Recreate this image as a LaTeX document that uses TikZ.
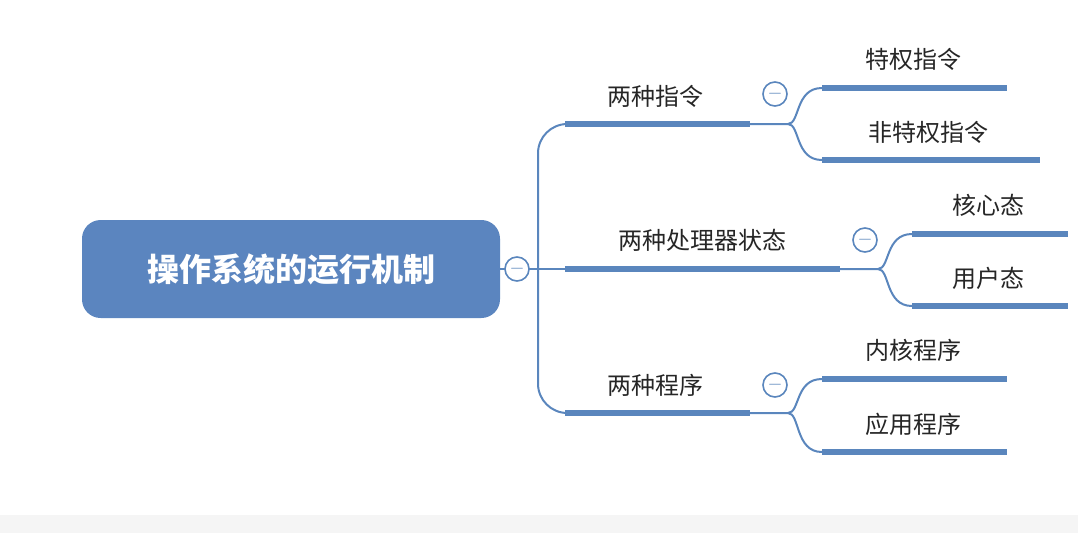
\documentclass[tikz,border=0pt]{standalone}
\usepackage{fontspec}
\newfontfamily\cjk{Noto Sans CJK SC}
\begin{document}
\begin{tikzpicture}[x=0.75pt,y=-0.75pt,
  bl/.style={draw=lc,line width=1.5pt},
  ul/.style={draw=lc,line width=4pt},
  lbl/.style={font=\cjk\fontsize{18}{20}\selectfont,text=black!85,inner sep=0pt},
  col/.style={circle,draw=lc,line width=1.2pt,fill=white,minimum size=18pt,inner sep=0pt,font=\cjk\fontsize{14}{14}\selectfont,text=lc}]
\definecolor{lc}{HTML}{5A86BD}
\definecolor{rf}{HTML}{5B85BF}
\useasboundingbox (0,0) rectangle (1078,533);
\fill[black!4] (0,515) rectangle (1078,533);
% root
\node[fill=rf,rounded corners=14pt,minimum width=313.5pt,minimum height=73.5pt,inner sep=0pt,text=white,font=\cjk\bfseries\fontsize{24}{26}\selectfont] (root) at (291,269) {操作系统的运行机制};
\coordinate (j) at (538,269);
\draw[bl] (root.east) -- (j);
% branches
\coordinate (b1s) at (565,124); \coordinate (b1e) at (750,124);
\coordinate (b2s) at (565,269); \coordinate (b2e) at (840,269);
\coordinate (b3s) at (565,413); \coordinate (b3e) at (750,413);
\draw[bl,rounded corners=22pt] (j) -- (538,124) -- (b1s);
\draw[bl,rounded corners=22pt] (j) -- (538,413) -- (b3s);
\draw[bl] (j) -- (b2s);
\draw[ul] (b1s) -- (b1e); \draw[ul] (b2s) -- (b2e); \draw[ul] (b3s) -- (b3e);
\node[lbl] (t1) at (655,96) {两种指令};
\node[lbl] (t2) at (702,240) {两种处理器状态};
\node[lbl] (t3) at (655,385) {两种程序};
\node[col] (root c) at (517,269) {$-$};
% leaves
\coordinate (l1a) at (822,88); \coordinate (l1ae) at (1007,88);
\coordinate (l1b) at (822,160); \coordinate (l1be) at (1040,160);
\coordinate (l2a) at (912,234); \coordinate (l2ae) at (1068,234);
\coordinate (l2b) at (912,306); \coordinate (l2be) at (1068,306);
\coordinate (l3a) at (822,379); \coordinate (l3ae) at (1007,379);
\coordinate (l3b) at (822,452); \coordinate (l3be) at (1007,452);
\draw[bl] (b1e) -- (788,124) .. controls (800,124) and (795,88) .. (l1a);
\draw[bl] (788,124) .. controls (800,124) and (795,160) .. (l1b);
\draw[bl] (b2e) -- (878,269) .. controls (890,269) and (885,234) .. (l2a);
\draw[bl] (878,269) .. controls (890,269) and (885,306) .. (l2b);
\draw[bl] (b3e) -- (788,413) .. controls (800,413) and (795,379) .. (l3a);
\draw[bl] (788,413) .. controls (800,413) and (795,452) .. (l3b);
\foreach \a/\b in {l1a/l1ae,l1b/l1be,l2a/l2ae,l2b/l2be,l3a/l3ae,l3b/l3be} \draw[ul] (\a) -- (\b);
\node[col] (c1) at (775,94) {$-$};
\node[col] (c2) at (865,240) {$-$};
\node[col] (c3) at (775,385) {$-$};
\node[lbl] at (913,59) {特权指令};
\node[lbl] at (928,132) {非特权指令};
\node[lbl] at (988,205) {核心态};
\node[lbl] at (988,278) {用户态};
\node[lbl] at (913,350) {内核程序};
\node[lbl] at (913,424) {应用程序};
\end{tikzpicture}
\end{document}
